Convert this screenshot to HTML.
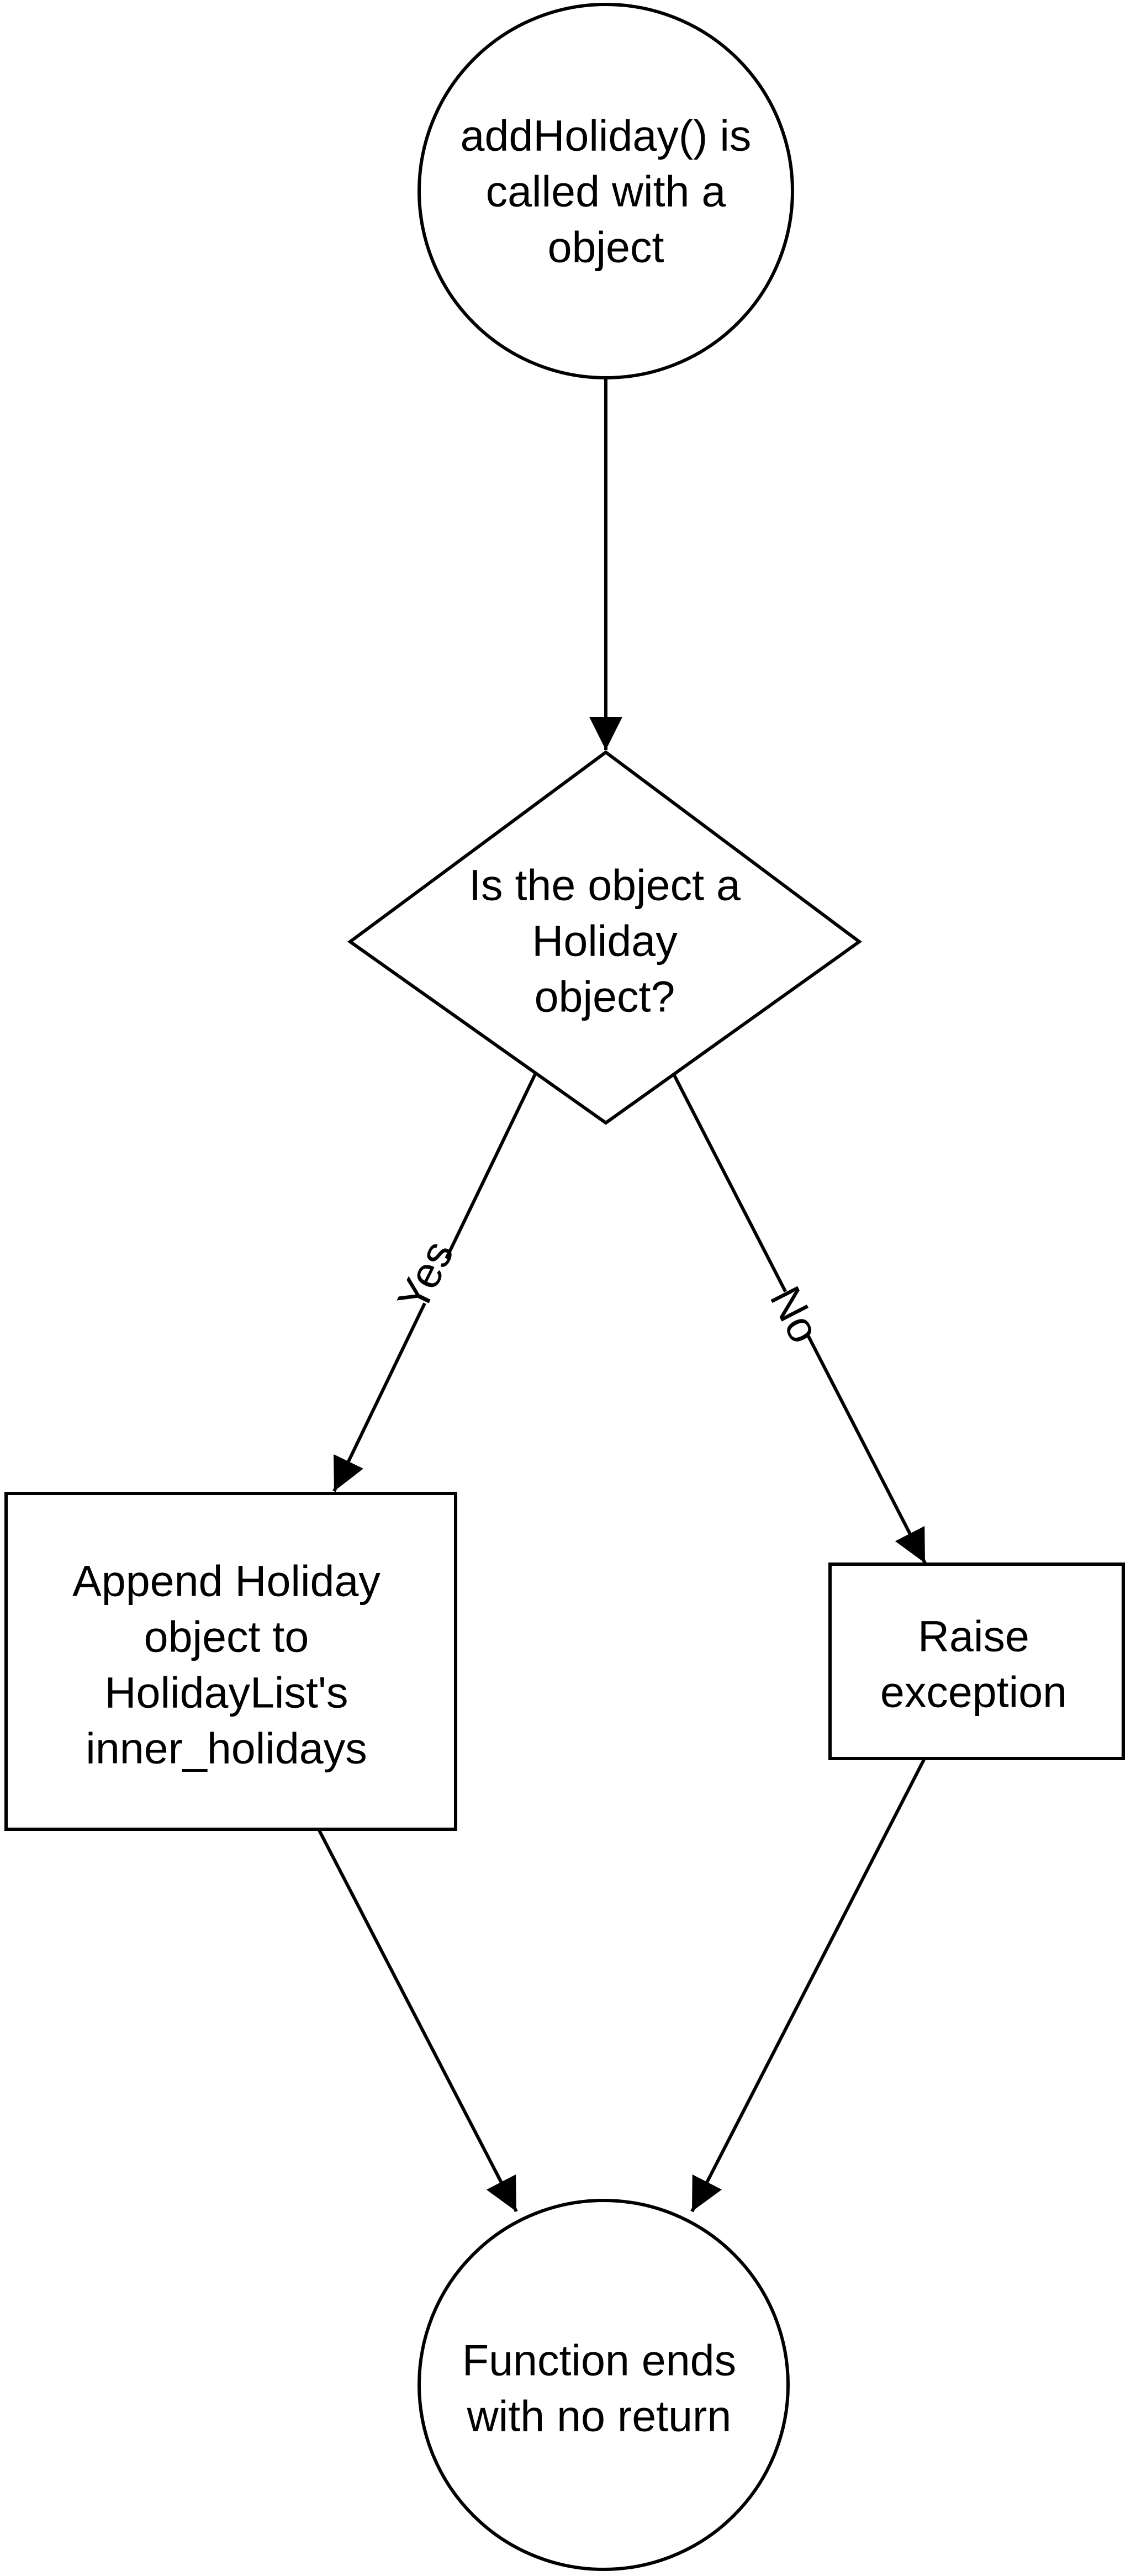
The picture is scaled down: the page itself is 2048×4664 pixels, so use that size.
<!DOCTYPE html>
<html><head><meta charset="utf-8"><style>
html,body{margin:0;padding:0;background:#fff}
svg{display:block}
text{font-family:"Liberation Sans",Arial,sans-serif;font-size:79px;fill:#000;text-anchor:middle;dominant-baseline:central}
</style></head><body>
<svg width="2048" height="4664" viewBox="0 0 2048 4664" xmlns="http://www.w3.org/2000/svg">
<defs>
<marker id="a" markerUnits="userSpaceOnUse" markerWidth="60" markerHeight="60" refX="60" refY="30" orient="auto">
<path d="M0,0 L60,30 L0,60 Z" fill="#000"/>
</marker>
</defs>
<g fill="none" stroke="#000" stroke-width="6">
<circle cx="1097" cy="346" r="338" fill="#fff"/>
<polygon points="1097,1362 1556,1705 1097,2033 634,1705" fill="#fff"/>
<rect x="11" y="2704" width="814" height="608" fill="#fff"/>
<rect x="1503" y="2832" width="531" height="352" fill="#fff"/>
<circle cx="1093" cy="4318" r="334" fill="#fff"/>
<line x1="1097" y1="686" x2="1097" y2="1358" marker-end="url(#a)"/>
<line x1="969" y1="1945" x2="605" y2="2700" marker-end="url(#a)"/>
<line x1="1220" y1="1945" x2="1675" y2="2830" marker-end="url(#a)"/>
<line x1="578" y1="3314" x2="935" y2="4004" marker-end="url(#a)"/>
<line x1="1673" y1="3186" x2="1253" y2="4004" marker-end="url(#a)"/>
</g>
<rect x="725" y="2240" width="90" height="140" fill="#fff" transform="rotate(-64 770 2310)"/>
<rect x="1395" y="2325" width="90" height="110" fill="#fff" transform="rotate(63 1440 2380)"/>
<text x="770" y="2310" transform="rotate(-64 770 2310)">Yes</text>
<text x="1440" y="2380" transform="rotate(63 1440 2380)">No</text>
<text x="1097" y="245">addHoliday() is</text>
<text x="1097" y="346">called with a</text>
<text x="1097" y="447">object</text>
<text x="1095" y="1602">Is the object a</text>
<text x="1095" y="1703">Holiday</text>
<text x="1095" y="1804">object?</text>
<text x="410" y="2862">Append Holiday</text>
<text x="410" y="2963">object to</text>
<text x="410" y="3064">HolidayList's</text>
<text x="410" y="3165">inner_holidays</text>
<text x="1763" y="2962">Raise</text>
<text x="1763" y="3063">exception</text>
<text x="1085" y="4273">Function ends</text>
<text x="1085" y="4374">with no return</text>
</svg>
</body></html>
